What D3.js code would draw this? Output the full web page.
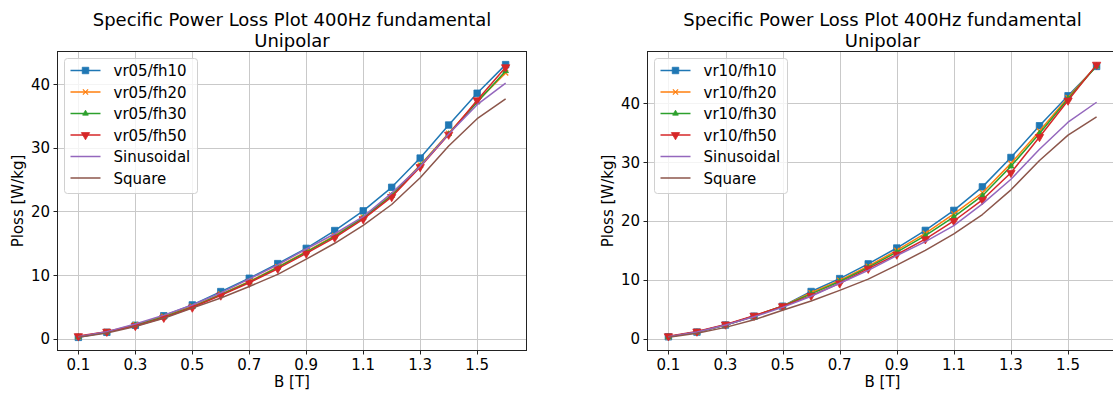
<!DOCTYPE html>
<html>
<head>
<meta charset="utf-8">
<script src="https://cdn.jsdelivr.net/npm/d3@7"></script>
<style>
  body { margin: 0; background: #fff; }
  svg { display: block; }
  text { font-family: "DejaVu Sans", sans-serif; fill: #000; }
</style>
</head>
<body>
<svg id="chart" width="1113" height="394"></svg>
<script>
// Flux density points (T)
const B = [0.1, 0.2, 0.3, 0.4, 0.5, 0.6, 0.7, 0.8, 0.9, 1.0, 1.1, 1.2, 1.3, 1.4, 1.5, 1.6];
const xTickValues = [0.1, 0.3, 0.5, 0.7, 0.9, 1.1, 1.3, 1.5];
const yTickValues = [0, 10, 20, 30, 40];

// Specific losses (W/kg), voltage ratio 0.5
const vr05fh10 = [0.2, 1.0, 2.1, 3.6, 5.3, 7.4, 9.5, 11.8, 14.2, 17.0, 20.1, 23.8, 28.4, 33.6, 38.6, 43.1];
const vr05fh20 = [0.3, 1.1, 2.2, 3.5, 5.1, 7.0, 9.0, 11.3, 13.7, 16.2, 19.1, 22.6, 27.3, 32.3, 37.3, 41.8];
const vr05fh30 = [0.3, 1.0, 2.1, 3.4, 5.0, 6.9, 8.9, 11.2, 13.6, 16.1, 19.0, 22.5, 27.2, 32.2, 37.2, 42.1];
const vr05fh50 = [0.4, 1.1, 2.0, 3.3, 4.9, 6.8, 8.8, 11.0, 13.4, 15.9, 18.8, 22.3, 27.0, 32.1, 37.5, 42.7];

// Specific losses (W/kg), voltage ratio 1.0
const vr10fh10 = [0.3, 1.1, 2.3, 3.8, 5.5, 8.0, 10.2, 12.7, 15.4, 18.4, 21.8, 25.8, 30.8, 36.2, 41.3, 46.3];
const vr10fh20 = [0.3, 1.1, 2.3, 3.8, 5.5, 7.8, 9.9, 12.3, 15.0, 17.9, 21.2, 24.8, 29.8, 35.3, 41.0, 46.4];
const vr10fh30 = [0.3, 1.1, 2.3, 3.8, 5.5, 7.6, 9.7, 12.1, 14.7, 17.5, 20.7, 24.3, 29.3, 34.9, 40.8, 46.4];
const vr10fh50 = [0.4, 1.2, 2.4, 3.9, 5.5, 7.3, 9.4, 11.9, 14.3, 16.9, 20.0, 23.6, 28.2, 34.3, 40.5, 46.6];

// Reference excitations
const sinusoidal = [0.3, 1.1, 2.3, 3.7, 5.3, 7.2, 9.4, 11.6, 14.1, 16.5, 19.2, 22.9, 27.1, 32.2, 36.8, 40.2];
const square     = [0.2, 0.9, 1.9, 3.2, 4.8, 6.4, 8.2, 10.1, 12.5, 15.0, 17.8, 21.1, 25.3, 30.3, 34.6, 37.7];

const labels05 = ["vr05/fh10", "vr05/fh20", "vr05/fh30", "vr05/fh50", "Sinusoidal", "Square"];
const labels10 = ["vr10/fh10", "vr10/fh20", "vr10/fh30", "vr10/fh50", "Sinusoidal", "Square"];
const colors = ["#1f77b4", "#ff7f0e", "#2ca02c", "#d62728", "#9467bd", "#8c564b"];
const markers = ["square", "x", "triUp", "triDown", null, null];

const titleLines = ["Specific Power Loss Plot 400Hz fundamental", "Unipolar"];

const svg = d3.select("#chart");

function markerPath(kind) {
  if (kind === "square") return d3.symbol(d3.symbolSquare, 42)();
  if (kind === "triUp") return d3.symbol(d3.symbolTriangle, 14)();
  if (kind === "triDown") return d3.symbol(d3.symbolTriangle, 30)();
  if (kind === "x") { const r = 2.6; return `M${-r},${-r}L${r},${r}M${-r},${r}L${r},${-r}`; }
  return null;
}

function drawMarker(g, kind, color, x, y) {
  const p = markerPath(kind);
  if (!p) return;
  const el = g.append("path").attr("d", p)
    .attr("transform", `translate(${x},${y})` + (kind === "triDown" ? " rotate(180)" : ""));
  if (kind === "x") el.attr("fill", "none").attr("stroke", color).attr("stroke-width", 1.2);
  else el.attr("fill", color).attr("stroke", color).attr("stroke-width", 0.8);
}

function panel(left, top, width, height, labels, series) {
  const g = svg.append("g");
  const all = series.flat();
  const [xmin, xmax] = d3.extent(B);
  const [ymin, ymax] = d3.extent(all);
  const xm = (xmax - xmin) * 0.05, ym = (ymax - ymin) * 0.05;
  const x = d3.scaleLinear().domain([xmin - xm, xmax + xm]).range([left, left + width]);
  const y = d3.scaleLinear().domain([ymin - ym, ymax + ym]).range([top + height, top]);

  const clipId = "clip" + Math.round(left);
  svg.append("clipPath").attr("id", clipId)
    .append("rect").attr("x", left).attr("y", top).attr("width", width).attr("height", height);

  // grid
  const grid = g.append("g").attr("stroke", "#c9c9c9").attr("stroke-width", 1);
  xTickValues.forEach(t => {
    const px = Math.round(x(t)) + 0.5;
    grid.append("line").attr("x1", px).attr("x2", px).attr("y1", top).attr("y2", top + height);
  });
  yTickValues.forEach(t => {
    const py = Math.round(y(t)) + 0.5;
    grid.append("line").attr("x1", left).attr("x2", left + width).attr("y1", py).attr("y2", py);
  });

  // series
  const line = d3.line().x((d, i) => x(B[i])).y(d => y(d));
  const plot = g.append("g").attr("clip-path", `url(#${clipId})`);
  series.forEach((vals, k) => {
    plot.append("path").datum(vals).attr("d", line)
      .attr("fill", "none").attr("stroke", colors[k]).attr("stroke-width", 1.5)
      .attr("stroke-linejoin", "round");
    if (markers[k]) vals.forEach((v, i) => drawMarker(plot, markers[k], colors[k], x(B[i]), y(v)));
  });

  // spines
  g.append("rect").attr("x", left + 0.5).attr("y", top + 0.5)
    .attr("width", width - 1).attr("height", height - 1)
    .attr("fill", "none").attr("stroke", "#222").attr("stroke-width", 1);

  // x ticks
  const xa = g.append("g");
  xTickValues.forEach(t => {
    const px = Math.round(x(t)) + 0.5;
    xa.append("line").attr("x1", px).attr("x2", px).attr("y1", top + height).attr("y2", top + height + 3.5)
      .attr("stroke", "#222");
    xa.append("text").attr("x", x(t)).attr("y", top + height + 18.5)
      .attr("text-anchor", "middle").attr("font-size", 15).text(d3.format(".1f")(t));
  });
  // y ticks
  yTickValues.forEach(t => {
    const py = Math.round(y(t)) + 0.5;
    xa.append("line").attr("x1", left - 3.5).attr("x2", left).attr("y1", py).attr("y2", py)
      .attr("stroke", "#222");
    xa.append("text").attr("x", left - 7).attr("y", y(t) + 5.5)
      .attr("text-anchor", "end").attr("font-size", 15).text(t);
  });

  // axis labels
  g.append("text").attr("x", left + width / 2).attr("y", top + height + 35.5)
    .attr("text-anchor", "middle").attr("font-size", 15).text("B [T]");
  g.append("text").attr("transform", `translate(${left - 34},${top + height / 2}) rotate(-90)`)
    .attr("text-anchor", "middle").attr("font-size", 15).text("Ploss [W/kg]");

  // title
  g.append("text").attr("x", left + width / 2).attr("y", 26)
    .attr("text-anchor", "middle").attr("font-size", 18).text(titleLines[0]);
  g.append("text").attr("x", left + width / 2).attr("y", 47)
    .attr("text-anchor", "middle").attr("font-size", 18).text(titleLines[1]);

  // legend
  const lx = left + 7.5, ly = top + 7.5;
  const leg = g.append("g");
  leg.append("rect").attr("x", lx).attr("y", ly).attr("width", 133).attr("height", 135)
    .attr("rx", 3).attr("fill", "#fff").attr("fill-opacity", 0.8)
    .attr("stroke", "#d0d0d0").attr("stroke-width", 1);
  labels.forEach((name, k) => {
    const cy = ly + 12 + k * 21.5;
    leg.append("line").attr("x1", lx + 6).attr("x2", lx + 36).attr("y1", cy).attr("y2", cy)
      .attr("stroke", colors[k]).attr("stroke-width", 1.5);
    if (markers[k]) drawMarker(leg, markers[k], colors[k], lx + 21, cy);
    leg.append("text").attr("x", lx + 49).attr("y", cy + 5.5).attr("font-size", 15).text(name);
  });
}

panel(57, 51, 470, 300, labels05, [vr05fh10, vr05fh20, vr05fh30, vr05fh50, sinusoidal, square]);
panel(647, 51, 471, 300, labels10, [vr10fh10, vr10fh20, vr10fh30, vr10fh50, sinusoidal, square]);
</script>
</body>
</html>
